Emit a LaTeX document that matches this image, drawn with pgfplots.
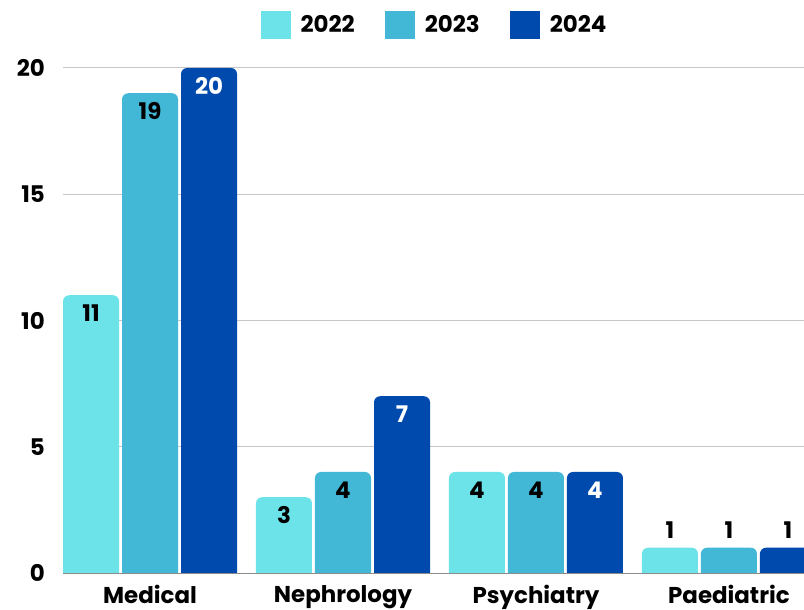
\documentclass[border=0pt]{standalone}
\usepackage{pgfplots}
\pgfplotsset{compat=1.18}
\usepackage{fontspec}
\setmainfont{Poppins}
\definecolor{c22}{HTML}{6BE3E8}
\definecolor{c23}{HTML}{42B8D6}
\definecolor{c24}{HTML}{004AAD}
\makeatletter
\newif\ifroundbar
\newdimen\rb@xa \newdimen\rb@ya \newdimen\rb@xb \newdimen\rb@yb \newdimen\rb@t \newdimen\rb@r
\rb@r=6bp
\def\rb@draw{%
  \ifdim\rb@xa>\rb@xb \rb@t=\rb@xa \rb@xa=\rb@xb \rb@xb=\rb@t \fi
  \ifdim\rb@ya>\rb@yb \rb@t=\rb@ya \rb@ya=\rb@yb \rb@yb=\rb@t \fi
  \edef\rb@cmd{%
    \noexpand\pgfpathmoveto{\noexpand\pgfqpoint{\the\rb@xa}{\the\rb@ya}}%
    \noexpand\pgfpathlineto{\noexpand\pgfqpoint{\the\rb@xa}{\the\dimexpr\rb@yb-\rb@r\relax}}%
    \noexpand\pgfpatharc{180}{90}{\the\rb@r}%
    \noexpand\pgfpathlineto{\noexpand\pgfqpoint{\the\dimexpr\rb@xb-\rb@r\relax}{\the\rb@yb}}%
    \noexpand\pgfpatharc{90}{0}{\the\rb@r}%
    \noexpand\pgfpathlineto{\noexpand\pgfqpoint{\the\rb@xb}{\the\rb@ya}}%
    \noexpand\pgfpathclose}%
  \rb@cmd}
\let\rb@origrectc\pgfpathrectanglecorners
\let\rb@origrect\pgfpathrectangle
\def\pgfpathrectanglecorners#1#2{%
  \ifroundbar
    \pgf@process{#1}\rb@xa=\pgf@x \rb@ya=\pgf@y
    \pgf@process{#2}\rb@xb=\pgf@x \rb@yb=\pgf@y
    \rb@draw
  \else
    \rb@origrectc{#1}{#2}%
  \fi}
\def\pgfpathrectangle#1#2{%
  \ifroundbar
    \pgf@process{#1}\rb@xa=\pgf@x \rb@ya=\pgf@y
    \pgf@process{#2}\rb@xb=\dimexpr\rb@xa+\pgf@x\relax \rb@yb=\dimexpr\rb@ya+\pgf@y\relax
    \rb@draw
  \else
    \rb@origrect{#1}{#2}%
  \fi}
\makeatother
\tikzset{roundbar/.code={\global\roundbartrue}, noround/.code={\global\roundbarfalse}}
\begin{document}
\begin{tikzpicture}[font=\fontsize{23}{27}\selectfont\bfseries]
\pgfkeys{/pgf/number format/assume math mode=true}
\useasboundingbox (-63bp,-37bp) rectangle (741bp,573bp);
\begin{axis}[
  at={(0,0)}, anchor=south west,
  scale only axis, width=741bp, height=505bp,
  xmin=-0.451, xmax=3.389, ymin=0, ymax=20,
  xtick={0,1,2,3}, xticklabels={Medical,Nephrology,Psychiatry,Paediatric},
  ytick={0,5,10,15,20},
  axis x line*=bottom, axis y line*=left,
  y axis line style={draw=none},
  x axis line style={draw=black!45, line width=1bp},
  major tick length=0pt,
  ymajorgrids, major grid style={draw=black!22, line width=1bp},
  xticklabel style={anchor=north, inner sep=0pt, yshift=-12bp},
  yticklabel style={anchor=east, inner sep=0pt, xshift=-18bp},
  /pgf/number format/assume math mode=true,
  ybar=3bp, bar width=56bp,
  legend style={at={(0.5,1)}, anchor=south, yshift=29bp, draw=none, fill=none,
    legend columns=3, inner sep=0pt, column sep=0pt,
    nodes={inner sep=0pt}},
  legend image code/.code={\fill[#1,noround] (0bp,-14bp) rectangle (30bp,14bp); \path (40bp,0bp);},
  nodes near coords={\ifdim\labw pt>0.5pt \color{white}\fi\pgfmathprintnumber{\pgfplotspointmeta}},
  every node near coord/.append style={anchor=center, yshift=\labsh pt, text=black, noround},
  visualization depends on={\thisrow{sh}\as\labsh},
  visualization depends on={\thisrow{w}\as\labw},
]
\addplot[fill=c22, draw=none, roundbar] table {
x y sh w
0 11 -18 0
1 3 -18 0
2 4 -18 0
3 1 18 0
};
\addlegendentry{2022\hspace*{30bp}}
\addplot[fill=c23, draw=none, roundbar] table {
x y sh w
0 19 -18 0
1 4 -18 0
2 4 -18 0
3 1 18 0
};
\addlegendentry{2023\hspace*{30bp}}
\addplot[fill=c24, draw=none, roundbar] table {
x y sh w
0 20 -18 1
1 7 -18 1
2 4 -18 1
3 1 18 0
};
\addlegendentry{2024}
\end{axis}
\end{tikzpicture}
\end{document}
